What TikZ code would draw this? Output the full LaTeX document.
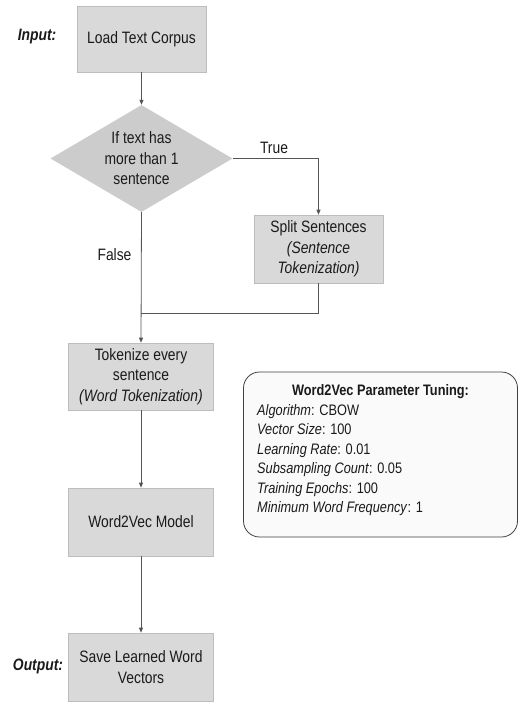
\documentclass[tikz,border=0pt]{standalone}
\usepackage{fontspec}
\setmainfont[FakeStretch=0.84]{Liberation Sans}
\usetikzlibrary{shapes.geometric,arrows.meta}
\definecolor{boxfill}{HTML}{D9D9D9}
\definecolor{boxline}{HTML}{BDBDBD}
\definecolor{diafill}{HTML}{CCCCCC}
\definecolor{conn}{HTML}{555555}
\definecolor{txt}{HTML}{1A1A1A}
\begin{document}
\begin{tikzpicture}[x=1pt,y=-1pt,
  stepbox/.style={draw=boxline,fill=boxfill,line width=0.6pt,inner sep=2pt,
    minimum width=145pt,minimum height=68pt,align=center,text=txt,
    font=\fontsize{16.5}{20.5}\selectfont},
  dia/.style={shape=diamond,fill=diafill,draw=none,inner sep=0pt,
    minimum width=182pt,minimum height=107pt},
  lbl/.style={text=txt,inner sep=0pt,font=\fontsize{16.5}{20.5}\selectfont},
  side/.style={text=txt,inner sep=0pt,font=\fontsize{16.5}{20.5}\selectfont\bfseries\itshape},
  conn/.style={draw=conn,line width=0.8pt},
  arr/.style={conn,-{Triangle[length=5pt,width=4pt]}},
  param/.style={draw=black!75,fill=black!2,line width=0.8pt,rounded corners=16pt,
    minimum width=274pt,minimum height=165pt,inner sep=0pt},
  ptext/.style={text=txt,inner sep=0pt,font=\fontsize{15.2}{19.4}\selectfont}
]
\useasboundingbox (0,0) rectangle (518,702);

\node[stepbox,minimum width=129pt,minimum height=66pt] (load) at (141.5,39) {Load Text Corpus};
\node[side] (inlbl) at (37,37) {Input:};

\node[dia] (dec) at (141.5,158.5) {};
\node[lbl,align=center] (dectext) at (dec) {If text has\\more than 1\\sentence};

\node[stepbox,minimum width=129pt,minimum height=68pt] (split) at (318.5,249) {Split Sentences\\\textit{(Sentence}\\\textit{Tokenization)}};

\node[stepbox,minimum height=67pt] (tok) at (141,376.5) {Tokenize every\\sentence\\\textit{(Word Tokenization)}};
\node[stepbox] (w2v) at (141,522) {Word2Vec Model};
\node[stepbox] (save) at (141,667) {Save Learned Word\\Vectors};
\node[side] (outlbl) at (38,666) {Output:};

\node[param] (pbox) at (380.5,454.5) {};
\node[ptext,font=\fontsize{15.2}{19.4}\selectfont\bfseries] (ptitle) at (380.5,392) {Word2Vec Parameter Tuning:};
\node[ptext,align=left,anchor=west] (plist) at (257,460) {\textit{Algorithm}: CBOW\\\textit{Vector Size}: 100\\\textit{Learning Rate}: 0.01\\\textit{Subsampling Count}: 0.05\\\textit{Training Epochs}: 100\\\textit{Minimum Word Frequency}: 1};

\coordinate (join) at (141,313);

\draw[arr] (load.south) -- (dec.north);
\draw[arr] (dec.east) -| (split.north);
\node[lbl] (truelbl) at (274,148) {True};
\draw[arr] (dec.south) -- (tok.north);
\node[lbl] (falselbl) at (114.5,255) {False};
\draw[conn] (split.south) |- (join);
\draw[arr] (tok.south) -- (w2v.north);
\draw[arr] (w2v.south) -- (save.north);
\end{tikzpicture}
\end{document}
